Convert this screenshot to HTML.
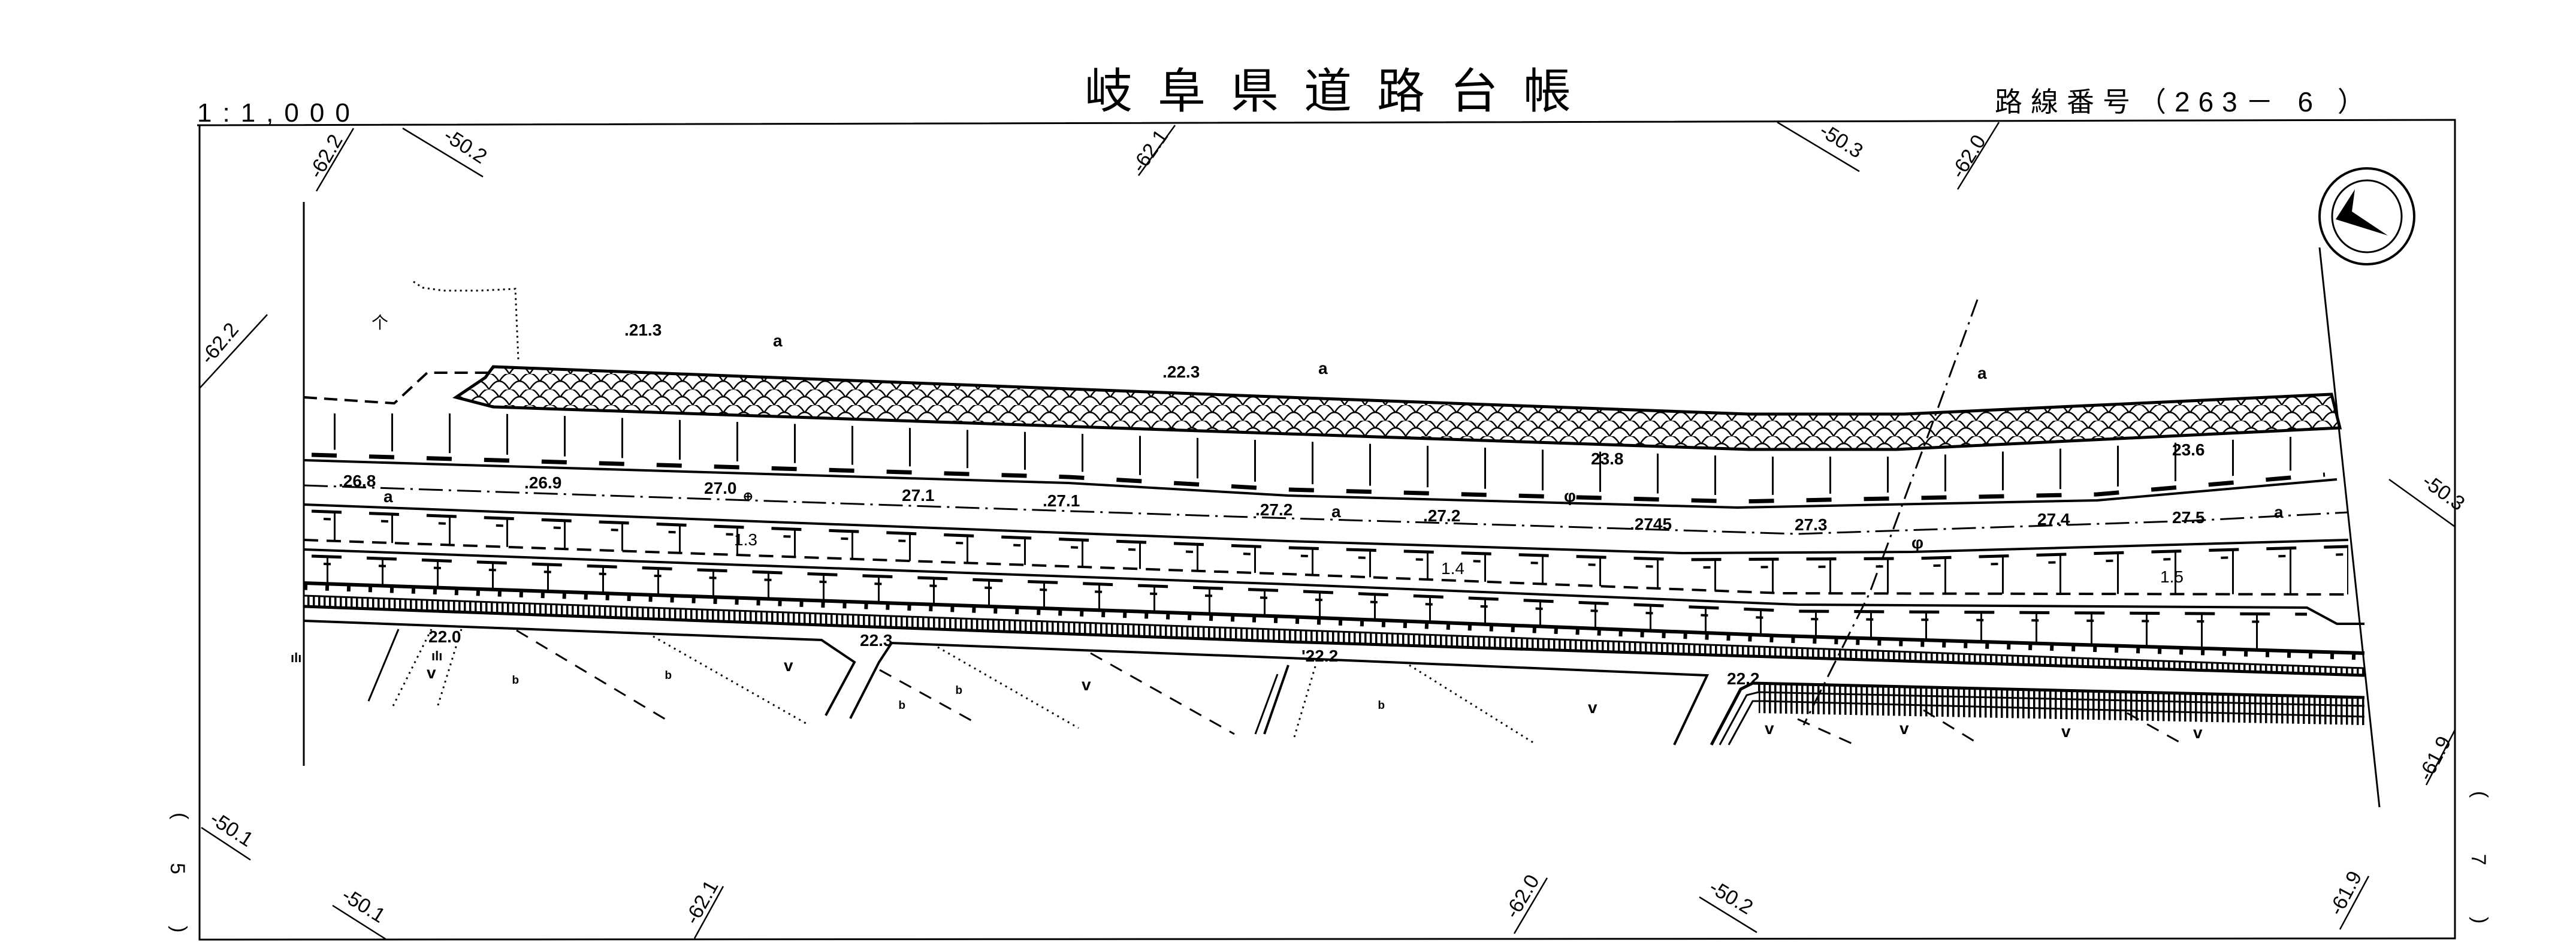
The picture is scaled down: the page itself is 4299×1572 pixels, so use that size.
<!DOCTYPE html>
<html><head><meta charset="utf-8"><style>
html,body{margin:0;padding:0;background:#fff;width:4299px;height:1572px;overflow:hidden}
svg{display:block}
.t{font-family:"Liberation Sans",sans-serif;fill:#000}
.lab{font-family:"Liberation Sans",sans-serif;font-size:28px;font-weight:bold;fill:#000}
.fr{font-family:"Liberation Sans",sans-serif;font-size:34px;fill:#000}
</style></head><body>
<svg width="4299" height="1572" viewBox="0 0 4299 1572" xmlns="http://www.w3.org/2000/svg">
<defs>
<pattern id="scale" width="34" height="26" patternUnits="userSpaceOnUse">
<path d="M0 26 Q17 -2 34 26 M-17 13 Q0 -15 17 13 M17 13 Q34 -15 51 13" fill="none" stroke="#000" stroke-width="2.5"/>
</pattern>
<pattern id="v96" x="557" width="96" height="10" patternUnits="userSpaceOnUse"><rect x="0" y="0" width="3" height="10" fill="#000"/></pattern>
<pattern id="v92" x="545" width="92" height="10" patternUnits="userSpaceOnUse"><rect x="0" y="0" width="3" height="10" fill="#000"/></pattern>
<pattern id="v9" width="9" height="10" patternUnits="userSpaceOnUse"><rect x="0" y="0" width="3.5" height="10" fill="#000"/></pattern>
</defs>
<!-- titles -->
<text class="t" x="329" y="203" font-size="44" letter-spacing="18">1:1,000</text>
<text class="t" x="1810" y="180" font-size="80" letter-spacing="42" font-family="'Liberation Sans','Noto Sans CJK JP',sans-serif">岐阜県道路台帳</text>
<text class="t" x="3329" y="186" font-size="46" letter-spacing="14" font-family="'Liberation Sans','Noto Sans CJK JP',sans-serif">路線番号（263－ 6  ）</text>
<!-- frame -->
<polyline points="329,209 4097,200 4097,1566 333,1568 333,209" fill="none" stroke="#000" stroke-width="3"/>
<!-- margins -->
<text class="fr" transform="translate(290,1356) rotate(90)">(</text>
<text class="fr" transform="translate(285,1440) rotate(90)">5</text>
<text class="fr" transform="translate(288,1545) rotate(90)">)</text>
<text class="fr" transform="translate(4128,1320) rotate(90)">(</text>
<text class="fr" transform="translate(4125,1425) rotate(90)">7</text>
<text class="fr" transform="translate(4128,1530) rotate(90)">)</text>
<!-- grid tick lines -->
<g stroke="#000" stroke-width="2.5">
<line x1="590" y1="214" x2="528" y2="319"/><line x1="672" y1="214" x2="806" y2="295"/>
<line x1="1961" y1="209" x2="1900" y2="293"/><line x1="2966" y1="204" x2="3103" y2="286"/>
<line x1="3336" y1="204" x2="3267" y2="316"/><line x1="446" y1="525" x2="333" y2="648"/>
<line x1="3987" y1="800" x2="4097" y2="879"/><line x1="4097" y1="1218" x2="4049" y2="1310"/>
<line x1="336" y1="1381" x2="418" y2="1435"/><line x1="555" y1="1511" x2="645" y2="1568"/>
<line x1="1207" y1="1479" x2="1159" y2="1566"/><line x1="2582" y1="1465" x2="2527" y2="1558"/>
<line x1="2836" y1="1497" x2="2932" y2="1556"/><line x1="3953" y1="1462" x2="3905" y2="1551"/>
</g>
<g class="fr">
<text transform="translate(534,300) rotate(-60)">-62.2</text>
<text transform="translate(738,232) rotate(33)">-50.2</text>
<text transform="translate(1906,290) rotate(-55)">-62.1</text>
<text transform="translate(3034,224) rotate(32)">-50.3</text>
<text transform="translate(3274,300) rotate(-58)">-62.0</text>
<text transform="translate(350,610) rotate(-50)">-62.2</text>
<text transform="translate(4040,808) rotate(36)">-50.3</text>
<text transform="translate(4055,1305) rotate(-62)">-61.9</text>
<text transform="translate(348,1372) rotate(33)">-50.1</text>
<text transform="translate(568,1500) rotate(32)">-50.1</text>
<text transform="translate(1162,1545) rotate(-61)">-62.1</text>
<text transform="translate(2530,1535) rotate(-59)">-62.0</text>
<text transform="translate(2850,1487) rotate(31)">-50.2</text>
<text transform="translate(3906,1530) rotate(-62)">-61.9</text>
</g>
<!-- compass -->
<ellipse cx="3950" cy="361" rx="79" ry="80" fill="none" stroke="#000" stroke-width="4"/>
<ellipse cx="3950" cy="361" rx="58" ry="60" fill="none" stroke="#000" stroke-width="3"/>
<polygon points="3898,366 3930,316 3925,353 3985,393" fill="#000"/>
<!-- inner boundaries -->
<line x1="507" y1="337" x2="507" y2="1278" stroke="#000" stroke-width="3"/>
<line x1="3871" y1="413" x2="3971" y2="1347" stroke="#000" stroke-width="3"/>
<!-- hatched band -->
<polygon points="823,612 2150,663 2918,691 3178,691 3891,658 3905,714 3165,750 2918,750 2150,724 823,679 761,663 810,630" fill="url(#scale)" stroke="#000" stroke-width="5"/>
<polyline points="507,663 658,673 713,622 823,622" fill="none" stroke="#000" stroke-width="4" stroke-dasharray="22,12"/>
<polyline points="690,470 705,480 740,485 800,485 860,482 865,600" fill="none" stroke="#000" stroke-width="3" stroke-dasharray="3,6"/>

<!-- slope tick rows -->
<polygon points="540,690 823,690 2150,736 2918,762 3178,762 3880,726 3880,780 3500,815 2900,827 2150,807 1783,786 540,750" fill="url(#v96)"/>
<polyline points="520,759 1783,796 2150,817 2900,837 3500,825 3880,792" fill="none" stroke="#000" stroke-width="7" stroke-dasharray="42,54"/>
<polygon points="507,852 2150,913 2808,933 3192,931 3919,911 3919,992 2973,990 2150,958 507,901" fill="url(#v96)"/>
<polyline points="520,853 2150,914 2808,934 3192,932 3919,912" fill="none" stroke="#000" stroke-width="5" stroke-dasharray="50,46"/>
<polyline points="540,866 2150,927 2808,947 3192,945 3919,925" fill="none" stroke="#000" stroke-width="4" stroke-dasharray="12,84"/>
<polygon points="507,927 2150,985 3000,1019 3850,1024 3850,1088 2973,1061 2150,1029 507,973" fill="url(#v92)"/>
<polyline points="520,928 2150,986 3000,1020 3850,1025" fill="none" stroke="#000" stroke-width="5" stroke-dasharray="50,42"/>
<polyline points="540,941 2150,999 3000,1033 3850,1038" fill="none" stroke="#000" stroke-width="4" stroke-dasharray="12,80"/>
<polyline points="507,980 2150,1036 2973,1068 3946,1097" fill="none" stroke="#000" stroke-width="9" stroke-dasharray="6,30"/>
<polygon points="507,994 2150,1051 3946,1115 3946,1127 2150,1071 507,1012" fill="url(#v9)"/>
<polygon points="2935,1155 3946,1178 3946,1210 2935,1190" fill="url(#v9)"/>
<polygon points="2930,1142 3946,1166 3946,1178 2935,1155" fill="url(#v9)"/>

<g fill="none" stroke="#000">
<polyline points="507,768 1783,806 2150,827 2900,847 3500,835 3900,800" stroke-width="4"/>
<polyline points="507,810 2056,862 3000,891 3658,869 3919,855" stroke-width="3" stroke-dasharray="40,10,4,10"/>
<polyline points="507,842 2150,903 2808,923 3192,921 3919,901" stroke-width="4"/>
<polyline points="507,901 2150,958 2973,990 3919,992" stroke-width="4" stroke-dasharray="24,14"/>
<polyline points="507,917 2150,975 3000,1009 3850,1014 3900,1041 3946,1041" stroke-width="4"/>
<polyline points="507,973 2150,1029 2973,1061 3946,1090" stroke-width="6"/>
<polyline points="507,994 2150,1051 3946,1115" stroke-width="3"/>
<polyline points="507,1012 2150,1071 3946,1127" stroke-width="5"/>
<polyline points="507,1036 1371,1068 1426,1105 1378,1194" stroke-width="4"/>
<polyline points="1419,1199 1467,1105 1488,1073 2150,1098 2849,1127 2794,1243" stroke-width="4"/>
<polyline points="2856,1243 2905,1150 2925,1140 3946,1164" stroke-width="5"/>
<polyline points="2870,1243 2915,1160 2935,1155 3946,1178" stroke-width="3"/>
<polyline points="2885,1243 2925,1170 2945,1170 3946,1196" stroke-width="3"/>
<g stroke-width="3" stroke-dasharray="22,16">
<line x1="862" y1="1052" x2="1110" y2="1200"/><line x1="1820" y1="1090" x2="2060" y2="1225"/>
<line x1="1468" y1="1118" x2="1626" y2="1205"/><line x1="3000" y1="1200" x2="3100" y2="1245"/>
<line x1="3210" y1="1185" x2="3300" y2="1240"/><line x1="3550" y1="1190" x2="3640" y2="1240"/>
</g>
<g stroke-width="3" stroke-dasharray="3,7">
<line x1="1090" y1="1062" x2="1350" y2="1210"/><line x1="1565" y1="1080" x2="1800" y2="1215"/>
<line x1="2352" y1="1110" x2="2560" y2="1240"/><line x1="720" y1="1050" x2="655" y2="1180"/>
<line x1="770" y1="1050" x2="730" y2="1180"/><line x1="2195" y1="1112" x2="2160" y2="1230"/>
</g>
<line x1="665" y1="1050" x2="615" y2="1170" stroke-width="3"/>
<line x1="2150" y1="1110" x2="2110" y2="1225" stroke-width="4"/>
<line x1="2132" y1="1125" x2="2095" y2="1225" stroke-width="3"/>
<polyline points="3300,500 3220,720 3120,990 3040,1150 3010,1210" stroke-width="3" stroke-dasharray="30,10,4,10"/>
</g>
<!-- labels -->
<g class="lab">
<text x="1042" y="560">.21.3</text><text x="1290" y="578">a</text>
<text x="1940" y="630">.22.3</text><text x="2200" y="624">a</text><text x="3300" y="632">a</text>
<text x="2655" y="775">23.8</text><text x="3625" y="760">23.6</text>
<text x="565" y="812">.26.8</text><text x="875" y="815">.26.9</text><text x="1175" y="824">27.0</text>
<text x="640" y="838">a</text><text x="1505" y="836">27.1</text><text x="1740" y="845">.27.1</text>
<text x="2095" y="860">.27.2</text><text x="2222" y="863">a</text><text x="2375" y="870">.27.2</text>
<text x="2720" y="884">.2745</text><text x="2995" y="885">27.3</text><text x="3400" y="876">27.4</text>
<text x="3625" y="873">27.5</text><text x="3795" y="864">a</text>
<text x="1225" y="910" font-weight="normal">1.3</text><text x="2405" y="958" font-weight="normal">1.4</text><text x="3605" y="972" font-weight="normal">1.5</text>
<text x="715" y="1072">22.0</text><text x="1435" y="1078">22.3</text><text x="2172" y="1104">'22.2</text><text x="2882" y="1142">22.2</text>
<text x="620" y="548" font-weight="normal">个</text>
<text x="720" y="1102" font-size="22">ılı</text><text x="485" y="1105" font-size="22">ılı</text>
<text x="855" y="1148">ᵇ</text><text x="1110" y="1140">ᵇ</text><text x="1500" y="1190">ᵇ</text><text x="1595" y="1165">ᵇ</text><text x="2300" y="1190">ᵇ</text>
<text x="712" y="1132">v</text><text x="1308" y="1120">v</text><text x="1805" y="1152">v</text><text x="2650" y="1190">v</text>
<text x="2945" y="1225">v</text><text x="3170" y="1225">v</text><text x="3440" y="1230">v</text><text x="3660" y="1232">v</text>
<text x="2610" y="837">φ</text><text x="3190" y="915">φ</text><text x="1240" y="835" font-size="20">⊕</text>
</g>
</svg>
</body></html>
